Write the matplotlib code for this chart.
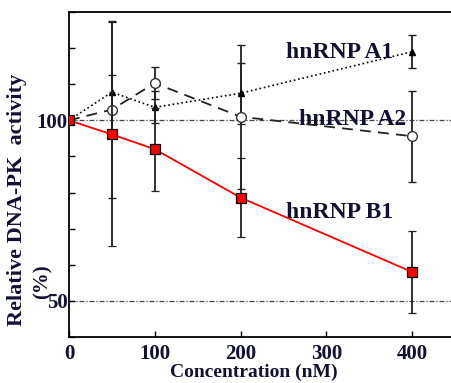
import matplotlib
matplotlib.use('Agg')
import matplotlib.pyplot as plt
import matplotlib.ticker as ticker

plt.rcParams['font.family'] = ['Liberation Serif', 'DejaVu Serif']
plt.rcParams['font.weight'] = 'bold'

# concentration (nM)
conc = [0, 50, 100, 200, 400]

# relative activity (%) and error
a1 = [100, 107.8, 103.6, 107.5, 119]
a1_err = [0, 4.7, 4.4, 8.5, 4.5]
a2 = [100, 103, 110.3, 101, 95.6]
a2_err = [0, 24.5, 4.4, 20, 12.6]
b1 = [100, 96.1, 92, 78.6, 58]
b1_err = [0, 31, 11.5, 11, 11.3]

fig = plt.figure(figsize=(4.52, 3.83), dpi=100)
ax = fig.add_axes([69/452, 46/383, 386/452, 325/383])

# reference lines
for yv in [100, 50]:
    ax.axhline(yv, color='#444444', lw=0.9, ls=(0, (4, 1.5, 1, 1.5)), zorder=1)

ax.errorbar(conc, a1, yerr=a1_err, fmt='^', ls=':', color='black', ms=5,
            lw=1.2, ecolor='#222222', elinewidth=1.3, capsize=3, zorder=3)
ax.errorbar(conc, a2, yerr=a2_err, fmt='o', ls=(0, (6, 4)), color='#222222', ms=7,
            mfc='white', mec='#333333', lw=1.3, ecolor='#222222', elinewidth=1.3,
            capsize=3, zorder=3)
ax.errorbar(conc, b1, yerr=b1_err, fmt='s', ls='-', color='red', ms=7.5,
            mfc='red', mec='black', mew=0.9, lw=1.3, ecolor='#222222',
            elinewidth=1.3, capsize=3, zorder=4)

lab = dict(ha='center', va='center', fontsize=17, fontweight='bold', color='#111133')
ax.text(315, 118.9, 'hnRNP A1', **lab)
ax.text(331, 100.2, 'hnRNP A2', **lab)
ax.text(315, 74.4, 'hnRNP B1', **lab)

ax.set_xlim(0, 450)
ax.set_ylim(40, 130)
ax.xaxis.set_major_locator(ticker.MultipleLocator(100))
ax.xaxis.set_major_formatter(ticker.FuncFormatter(lambda v, p: '%d' % v if v <= 400 else ''))
ax.set_yticks([50, 100])
ax.yaxis.set_minor_locator(ticker.MultipleLocator(10))
ax.tick_params(direction='in', labelsize=15, length=4, width=1, labelcolor='#111133')
ax.tick_params(axis='y', which='minor', direction='in', length=4, width=1)
ax.tick_params(axis='y', pad=1)
ax.tick_params(axis='x', pad=5)
for s in ax.spines.values():
    s.set_linewidth(1.3)

fig.text(254/452, 1 - 372/383, 'Concentration (nM)', ha='center', va='center',
         fontsize=14, fontweight='bold', color='#111133')
fig.text(17/452, 1 - 200/383, 'Relative DNA-PK  activity', rotation=90, ha='center', va='center',
         fontsize=16, fontweight='bold', color='#111133')
fig.text(43/452, 1 - 282/383, '(%)', rotation=90, ha='center', va='center',
         fontsize=15, fontweight='bold', color='#111133')

fig.savefig('out.png', dpi=100)
